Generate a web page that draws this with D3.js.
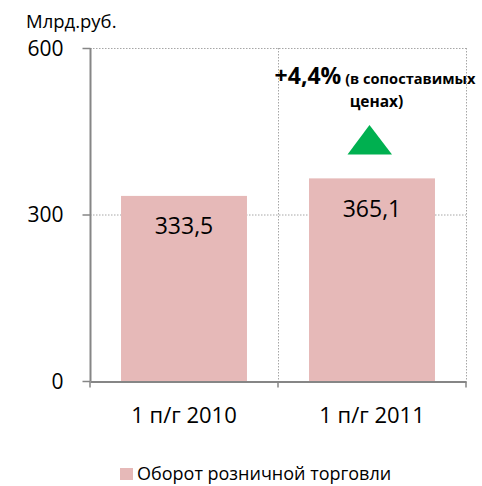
<!DOCTYPE html>
<html>
<head>
<meta charset="utf-8">
<script src="https://cdn.jsdelivr.net/npm/d3@7"></script>
<style>
  body { margin: 0; background: #fff; }
  text { font-family: "Open Sans", "DejaVu Sans", sans-serif; fill: #000; }
</style>
</head>
<body>
<div id="chart"></div>
<script>
const categories = ["1 п/г 2010", "1 п/г 2011"];
const values = [333.5, 365.1];
const valueLabels = ["333,5", "365,1"];
const yTicks = [0, 300, 600];
const seriesName = "Оборот розничной торговли";
const unitLabel = "Млрд.руб.";

const colors = {
  bar: "#e6b9b8",
  axis: "#868686",
  grid: "#a6a6a6",
  arrow: "#00b050"
};

const width = 482, height = 486;
const margin = {left: 90, right: 16, top: 48, bottom: 105};

const svg = d3.select("#chart").append("svg")
    .attr("width", width)
    .attr("height", height);

const x = d3.scaleBand()
    .domain(categories)
    .range([margin.left, width - margin.right])
    .paddingInner(0.33)
    .paddingOuter(0.165);

const xb = d3.scaleBand()
    .domain(categories)
    .range([margin.left, width - margin.right]);

const y = d3.scaleLinear()
    .domain([0, 600])
    .range([height - margin.bottom, margin.top]);

// horizontal gridlines
svg.append("g")
  .selectAll("line")
  .data(yTicks.filter(d => d > 0))
  .join("line")
    .attr("x1", margin.left)
    .attr("x2", width - margin.right)
    .attr("y1", d => y(d) + 0.5)
    .attr("y2", d => y(d) + 0.5)
    .attr("stroke", colors.grid)
    .attr("stroke-dasharray", "1.5,1.5");

// vertical gridlines at category boundaries
svg.append("g")
  .selectAll("line")
  .data(categories)
  .join("line")
    .attr("x1", d => xb(d) + xb.bandwidth() + 0.5)
    .attr("x2", d => xb(d) + xb.bandwidth() + 0.5)
    .attr("y1", y(600))
    .attr("y2", y(0))
    .attr("stroke", colors.grid)
    .attr("stroke-dasharray", "1.5,1.5");

// bars
svg.append("g")
  .selectAll("rect")
  .data(values)
  .join("rect")
    .attr("x", (d, i) => x(categories[i]))
    .attr("y", d => y(d))
    .attr("width", x.bandwidth())
    .attr("height", d => y(0) - y(d))
    .attr("fill", colors.bar);

// value labels
svg.append("g")
  .selectAll("text")
  .data(values)
  .join("text")
    .attr("x", (d, i) => x(categories[i]) + x.bandwidth() / 2)
    .attr("y", d => y(d) + 38.5)
    .attr("text-anchor", "middle")
    .attr("font-size", 23)
    .text((d, i) => valueLabels[i]);

// y axis
const yAxis = svg.append("g")
    .attr("transform", `translate(${margin.left + 0.5},0)`)
    .call(d3.axisLeft(y).tickValues(yTicks).tickSize(8).tickPadding(19).tickFormat(d3.format("d")));
yAxis.select(".domain").attr("stroke", colors.axis).attr("stroke-width", 2).attr("d", `M0,${y(600)}V${y(0)}`);
yAxis.selectAll(".tick line").attr("stroke", colors.axis).attr("stroke-width", 1.5);
yAxis.selectAll(".tick text")
    .attr("font-size", 21)
    .attr("dy", "0.34em")
    .style("font-family", '"Open Sans", sans-serif')
    .attr("fill", "#000");

// x axis
const xAxis = svg.append("g")
    .attr("transform", `translate(0,${y(0) + 0.5})`)
    .call(d3.axisBottom(xb).tickSize(0).tickPadding(0));
xAxis.select(".domain").attr("stroke", colors.axis).attr("stroke-width", 2);
xAxis.selectAll(".tick text")
    .attr("font-size", 22)
    .attr("dy", null)
    .attr("y", 41.5)
    .style("font-family", '"Open Sans", sans-serif')
    .attr("fill", "#000");
// x tick marks at band edges
xAxis.append("g")
  .selectAll("line")
  .data([margin.left].concat(categories.map(c => xb(c) + xb.bandwidth())))
  .join("line")
    .attr("x1", d => d)
    .attr("x2", d => d)
    .attr("y1", 0)
    .attr("y2", 6)
    .attr("stroke", colors.axis)
    .attr("stroke-width", 1.5);

// unit label
svg.append("text")
    .attr("x", 26)
    .attr("y", 28)
    .attr("font-size", 18.5)
    .text(unitLabel);

// growth annotation
const cx2 = x(categories[1]) + x.bandwidth() / 2;
const note = svg.append("text")
    .attr("x", cx2 + 3)
    .attr("y", 83.5)
    .attr("text-anchor", "middle")
    .attr("font-weight", "bold");
note.append("tspan").attr("font-size", 23).text("+4,4%");
note.append("tspan").attr("font-size", 14.6).text(" (в сопоставимых");
svg.append("text")
    .attr("x", cx2 + 4.5)
    .attr("y", 106.5)
    .attr("text-anchor", "middle")
    .attr("font-weight", "bold")
    .attr("font-size", 15.5)
    .text("ценах)");

svg.append("path")
    .attr("d", `M${cx2 - 2.5},125 L${cx2 + 20},154.5 L${cx2 - 24.5},154.5 Z`)
    .attr("fill", colors.arrow);

// legend
const legend = svg.append("g").attr("transform", "translate(120,468)");
legend.append("rect")
    .attr("width", 13)
    .attr("height", 12)
    .attr("fill", colors.bar);
legend.append("text")
    .attr("x", 17)
    .attr("y", 11.5)
    .attr("font-size", 18)
    .text(seriesName);
</script>
</body>
</html>
